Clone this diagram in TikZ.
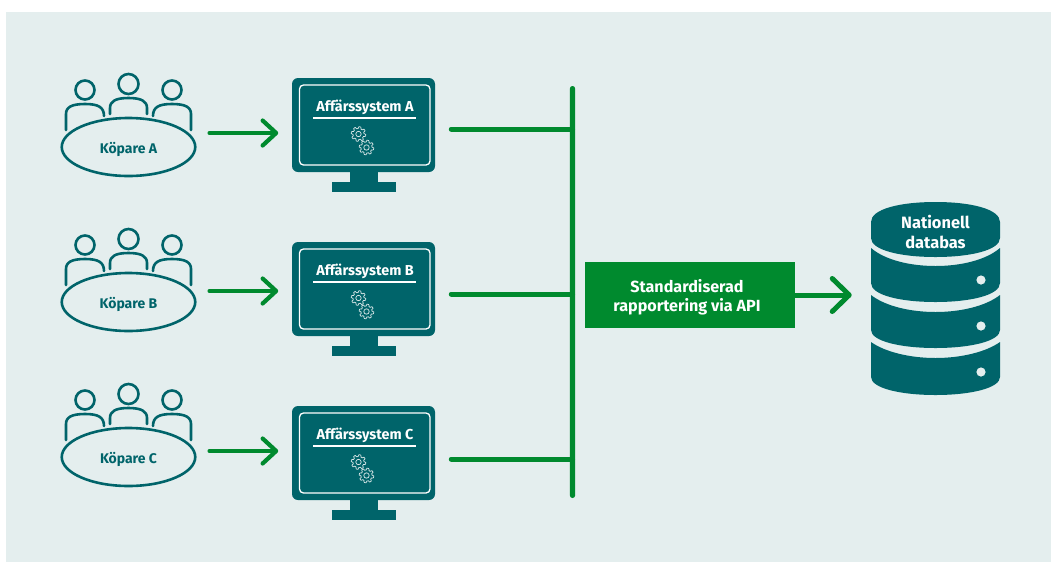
\documentclass[tikz,border=0pt]{standalone}
\usepackage{fontspec}
\setmainfont{Fira Sans}[UprightFont=* Bold]
\usetikzlibrary{arrows.meta,shapes.geometric}
\definecolor{teal}{HTML}{00646A}
\definecolor{grn}{HTML}{008A2E}
\definecolor{bg}{HTML}{E4EEEE}
\tikzset{
  px/.style={line width=#1*0.75pt},
  iconline/.style={draw=teal,px=2.6,fill=none,line cap=round},
  tablenode/.style={ellipse,draw=teal,px=2.6,minimum width=133.5*0.75pt,minimum height=58*0.75pt,inner sep=0pt,text=teal,font=\fontsize{10.5}{12}\selectfont},
  screen/.style={rectangle,rounded corners=6*0.75pt,fill=teal,minimum width=143*0.75pt,minimum height=94*0.75pt,inner sep=0pt},
  flow/.style={draw=grn,px=4.2,line cap=round,-{Straight Barb[round,length=13.5*0.75pt,width=25*0.75pt]}},
  branch/.style={draw=grn,px=5,line cap=round},
  gear/.style={draw=white,px=0.7,opacity=.85},
}
\newcommand{\gearat}[2]{%
  \draw[gear,shift={(#1,#2)}] plot[samples=97,domain=0:360,smooth cycle] (\x:{6.4+0.9*max(-1,min(1,3*sin(8*\x)))});
  \draw[gear] (#1,#2) circle[radius=2.7];
}
\begin{document}
\begin{tikzpicture}[x=0.75pt,y=-0.75pt]
\useasboundingbox (0,0) rectangle (1051,562);
\fill[bg] (6,12) rectangle (1051,562);
% people + tables
\foreach \n/\d/\lab in {A/0/Köpare A,B/155/Köpare B,C/310/Köpare C}{
  \begin{scope}[yshift=-\d*0.75pt]
    \draw[iconline] (85,90) circle[radius=9.5];
    \draw[iconline] (128.5,84) circle[radius=10];
    \draw[iconline] (172,90) circle[radius=9.5];
    \draw[iconline] (66,130) -- (66,114) .. controls (66,107) and (72,104) .. (85,104) .. controls (98,104) and (104,107) .. (104,116);
    \draw[iconline] (110,114) -- (110,108) .. controls (110,101) and (116,98) .. (128.5,98) .. controls (141,98) and (147,101) .. (147,108) -- (147,114);
    \draw[iconline] (153,116) .. controls (153,107) and (159,104) .. (172,104) .. controls (185,104) and (191,107) .. (191,114) -- (191,130);
    \node[tablenode,fill=bg] (tab\n) at (128.5,147) {\rule{0pt}{12pt}\lab};
  \end{scope}
}
% monitors
\foreach \n/\d in {A/0,B/164,C/328}{
  \begin{scope}[yshift=-\d*0.75pt]
    \fill[teal] (350,170) rectangle (378,184);
    \fill[teal] (332,182) rectangle (396,192);
    \node[screen] (mon\n) at (363.5,125) {};
    \draw[white,px=1.3,rounded corners=4*0.75pt] (299.5,85) rectangle (430,165);
    \node[text=white,font=\fontsize{10.8}{12}\selectfont] (title\n) at (365,107) {Affärssystem \n};
    \draw[white,px=1.1] (313,118) -- (416,118);
    \gearat{358.5}{134}
    \gearat{366.5}{147.5}
  \end{scope}
}
% bus, box, database anchor
\node[rectangle,fill=grn,rounded corners=2.5*0.75pt,minimum width=5.2*0.75pt,minimum height=412*0.75pt,inner sep=0pt] (bus) at (572.5,292) {};
\node[rectangle,fill=grn,minimum width=210*0.75pt,minimum height=66*0.75pt,inner sep=0pt,text=white,align=center,font=\fontsize{12.1}{14.2}\selectfont] (box) at (690,295) {\hspace*{-4.5pt}\rule{0pt}{13pt}Standardiserad\\\hspace*{-4.5pt}rapportering via API};
% database
\fill[teal] (871,222) .. controls (871,209) and (900,202) .. (935.5,202) .. controls (971,202) and (1000,209) .. (1000,222) -- (1000,238) .. controls (1000,250) and (971,257) .. (935.5,257) .. controls (900,257) and (871,250) .. (871,238) -- cycle;
\fill[teal] (871,248) .. controls (885,260) and (910,266) .. (935.5,266) .. controls (961,266) and (986,260) .. (1000,248) -- (1000,283) .. controls (1000,295) and (971,302) .. (935.5,302) .. controls (900,302) and (871,295) .. (871,283) -- cycle;
\fill[teal] (871,295) .. controls (885,306) and (910,312) .. (935.5,312) .. controls (961,312) and (986,306) .. (1000,295) -- (1000,330) .. controls (1000,341) and (971,348) .. (935.5,348) .. controls (900,348) and (871,341) .. (871,330) -- cycle;
\fill[teal] (871,342) .. controls (885,352) and (910,358) .. (935.5,358) .. controls (961,358) and (986,352) .. (1000,342) -- (1000,377) .. controls (1000,388) and (971,395) .. (935.5,395) .. controls (900,395) and (871,388) .. (871,377) -- cycle;
\foreach \y in {280,326,372}{\fill[bg] (981,\y) circle[radius=4.6];}
\node[text=white,align=center,font=\fontsize{12.3}{15}\selectfont] (dbtitle) at (935.5,232) {Nationell\\databas};
\node[minimum width=129*0.75pt,minimum height=193*0.75pt,inner sep=0pt] (db) at (935.5,298.5) {};
% connectors
\foreach \n/\ya/\yb in {A/133/129,B/291/294,C/451/459}{
  \coordinate (in\n) at (208,\ya);
  \coordinate (out\n) at (451,\yb);
  \draw[flow,shorten <=13*0.75pt,shorten >=13.5*0.75pt] (tab\n.east |- in\n) -- (mon\n.west |- in\n);
  \draw[branch,shorten <=16*0.75pt] (mon\n.east |- out\n) -- (bus.center |- out\n);
}
\coordinate (boxout) at (795,295);
\draw[flow,px=5,-{Straight Barb[round,length=17*0.75pt,width=33*0.75pt]},shorten >=19*0.75pt,line cap=butt] (box.east |- boxout) -- (db.west |- boxout);
\end{tikzpicture}
\end{document}
